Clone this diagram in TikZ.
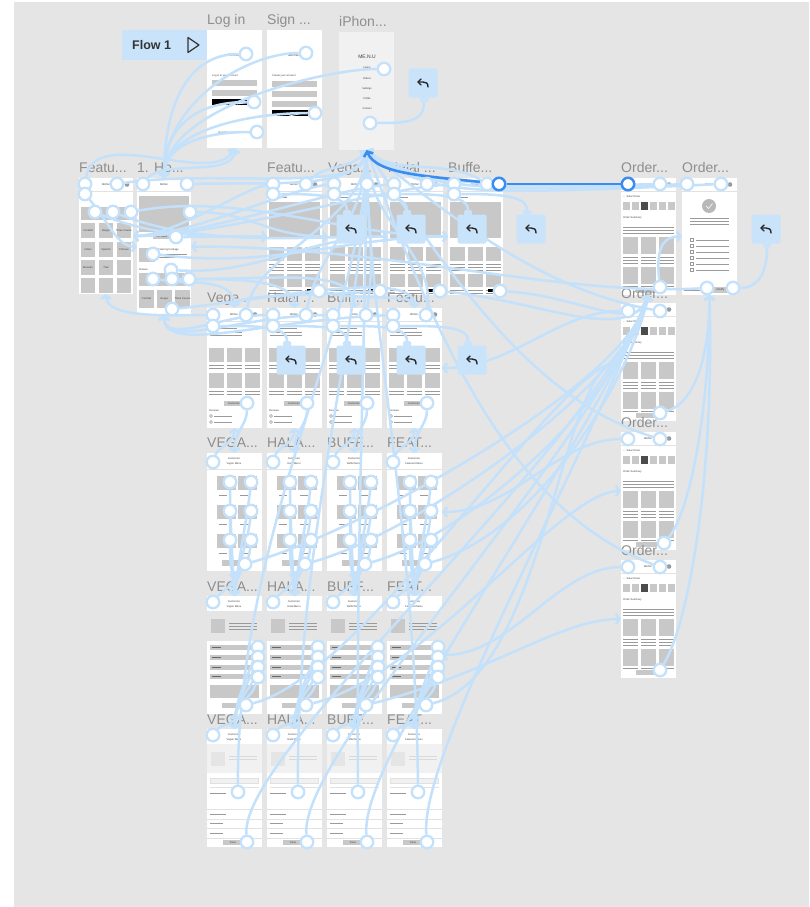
\documentclass[tikz,border=0pt]{standalone}
\usepackage{fontspec}
\setmainfont{Liberation Sans}
\usetikzlibrary{arrows.meta,calc}
\definecolor{bgc}{HTML}{E5E5E5}
\definecolor{wire}{HTML}{C4E1FB}
\definecolor{wired}{HTML}{3A8CEE}
\definecolor{bubc}{HTML}{C9E3FB}
\definecolor{gbox}{HTML}{C8C8C8}
\definecolor{gline}{HTML}{9A9A9A}
\definecolor{ttlc}{HTML}{8E8E8E}
\definecolor{sepc}{HTML}{E2E2E2}
\definecolor{pale}{HTML}{F1F1F1}
\pgfdeclarelayer{back}
\pgfdeclarelayer{wires}
\pgfdeclarelayer{top}
\pgfsetlayers{back,main,wires,top}
\tikzset{
 frm/.style={draw=none, fill=white, minimum width=55pt, minimum height=118pt, anchor=north west, inner sep=0pt, outer sep=0pt},
 ttl/.style={anchor=base west, text=ttlc, font=\fontsize{14}{14}\selectfont, inner sep=0pt},
 tny/.style={font=\fontsize{2.6}{3}\selectfont, text=black!75, inner sep=0pt},
 hdrline/.style={draw=sepc, line width=0.6pt},
 gl/.style={draw=gline, line width=0.6pt},
 hs/.style={circle, draw=wire, line width=2.3pt, fill=white, minimum size=12.5pt, inner sep=0pt},
 hsd/.style={circle, draw=wired, line width=2.5pt, fill=white, minimum size=12.5pt, inner sep=0pt},
 wire/.style={draw=wire, line width=2.5pt},
 warr/.style={draw=wire, line width=2.5pt, -{Straight Barb[length=3.5pt,width=10pt]}},
 wdark/.style={draw=wired, line width=2.6pt},
 bub/.style={fill=bubc, rounded corners=2pt, minimum size=29pt, inner sep=0pt},
 tabn/.style={fill=bubc, rounded corners=1.5pt, minimum width=8pt, minimum height=6pt, inner sep=0pt},
 pics/backicon/.style={code={
   \draw[line width=1.4pt, black!85, line cap=round] (5,4) .. controls (5,0) and (3,-1) .. (0,-1) -- (-5,-1);
   \draw[line width=1.4pt, black!85, line cap=round, line join=round] (-2,-4) -- (-5,-1) -- (-2,2);
 }},
 pics/hdr/.style={code={
   \draw[hdrline] (0,13) -- (55,13);
   \node[tny] at (27,6.5) {MENU};
   \fill[gline] (48,6.5) circle (2.3);
 }},
 pics/loginscr/.style={code={
   \node[tny, font=\fontsize{4}{4}\selectfont] at (27,25) {MENU};
   \node[tny, anchor=west] at (5,46) {Log in to your account};
   \fill[gbox] (5,50) rectangle (50,56);
   \fill[gbox] (5,60) rectangle (50,66);
   \fill[black] (5,69) rectangle (50,75);
   \draw[white, line width=0.7pt] (22,75) -- (48,70) (30,74) -- (48,72);
   \node[tny] at (30,103) {Don't have an account? Sign up};
 }},
 pics/signupscr/.style={code={
   \node[tny, font=\fontsize{4}{4}\selectfont] at (27,25) {MENU};
   \node[tny, anchor=west] at (5,46) {Create your account};
   \fill[gbox] (5,51) rectangle (50,57);
   \fill[gbox] (5,61) rectangle (50,67);
   \fill[gbox] (5,71) rectangle (50,77);
   \fill[black] (5,80) rectangle (50,86);
   \draw[white, line width=0.7pt] (22,86) -- (48,81);
 }},
 pics/iphonescr/.style={code={
   \node[tny, font=\fontsize{5}{5}\selectfont] at (28,25) {ME.N.U};
   \node[tny] at (28,36) {Home};
   \node[tny] at (28,47) {Orders};
   \node[tny] at (28,57) {Settings};
   \node[tny] at (28,67) {Profile};
   \node[tny] at (28,77) {Contact};
 }},
 pics/catscr/.style={code={
   \pic {hdr};
   \fill[gbox] (2,29) rectangle (52,42);
   \foreach \vv in {45,64,82,100} \foreach \uu in {2,20,38} \fill[gbox] (\uu,\vv) rectangle ++(14,15);
   \node[tny] at (9,52.5) {Cocktail};
   \node[tny] at (27,52.5) {Burger};
   \node[tny] at (45,52.5) {Three Course};
   \node[tny] at (9,71.5) {Indian};
   \node[tny] at (27,71.5) {Spanish};
   \node[tny] at (45,71.5) {Chinese};
   \node[tny] at (9,89.5) {Mexican};
   \node[tny] at (27,89.5) {Thai};
 }},
 pics/homescr/.style={code={
   \pic {hdr};
   \fill[gbox] (2,18) rectangle (52,54);
   \fill[gbox] (16,56) rectangle (33,61);
   \node[tny] at (24.5,58.5) {Get starts};
   \fill[gbox] (2,70) rectangle (18,84);
   \node[tny, anchor=west] at (21,72) {Catering Package};
   \draw[gl] (21,76) -- (50,76) (21,79) -- (50,79);
   \node[tny, anchor=west] at (2,92) {Browse};
   \fill[gbox] (2,95) rectangle (52,108);
   \foreach \uu/\lbl in {2/Cocktail,20/Burger,38/Three Course} {
     \fill[gbox] (\uu,112) rectangle ++(15,18);
     \node[tny] at (\uu+7.5,121) {\lbl};
   }
 }},
 pics/menuscr/.style={code={
   \pic {hdr};
   \draw[gl] (3,19) -- (20,19);
   \fill[gbox] (2,24) rectangle (53,60);
   \foreach \uu in {2,20,38} {
     \fill[gbox] (\uu,69) rectangle ++(15,14);
     \draw[gl] (\uu,86) -- ++(15,0) (\uu,89) -- ++(15,0) (\uu,92) -- ++(15,0);
     \fill[gbox] (\uu,96) rectangle ++(15,13);
     \draw[gl] (\uu,112) -- ++(15,0) (\uu,115) -- ++(15,0);
   }
   \fill[black] (40,111) rectangle (50,114);
 }},
 pics/orderscr/.style={code={
   \pic {hdr};
   \node[tny, anchor=west] at (2,19) {← Select Date};
   \foreach \uu/\cc in {2/gbox,11/gbox,20/black!70,29/gbox,38/gbox,47/gbox} \fill[\cc] (\uu,24) rectangle ++(7,8);
   \node[tny, anchor=west] at (2,40) {Order Summary};
   \draw[gl] (2,49) -- (53,49) (2,52) -- (53,52) (2,55) -- (53,55);
   \foreach \uu in {2,20,38} {
     \fill[gbox] (\uu,59) rectangle ++(15,17);
     \draw[gl] (\uu,79) -- ++(15,0) (\uu,82) -- ++(15,0) (\uu,85) -- ++(15,0);
     \fill[gbox] (\uu,89) rectangle ++(15,17);
     \draw[gl] (\uu,108) -- ++(15,0);
   }
   \fill[gbox] (15,110) rectangle (36,115);
 }},
 pics/confscr/.style={code={
   \pic {hdr};
   \fill[gline!70] (27,28) circle (7);
   \draw[white, line width=0.6pt] (24,28) -- (26.5,30.5) -- (30.5,25.5);
   \draw[gl] (8,40) -- (47,40) (8,43) -- (47,43) (8,46) -- (47,46);
   \foreach \vv in {62,68,74,80,86,92} {
     \draw[gline, line width=0.4pt] (8,\vv-1.5) rectangle ++(3,3);
     \draw[gl] (14,\vv) -- (47,\vv);
   }
   \draw[gl] (2,112) -- (28,112);
   \fill[gbox] (31,109) rectangle (46,115);
   \node[tny] at (38.5,112) {Modify};
 }},
 pics/detscr/.style={code={
   \pic {hdr};
   \draw[gl] (3,20) -- (30,20) (3,24) -- (35,24) (3,27) -- (35,27);
   \foreach \uu in {2,20,38} {
     \fill[gbox] (\uu,40) rectangle ++(15,14);
     \draw[gl] (\uu,57) -- ++(15,0) (\uu,60) -- ++(15,0);
     \fill[gbox] (\uu,65) rectangle ++(15,15);
     \draw[gl] (\uu,83) -- ++(15,0) (\uu,86) -- ++(15,0);
   }
   \fill[gbox] (17,93) rectangle (37,98);
   \node[tny] at (27,95.5) {Customize};
   \node[tny, anchor=west] at (2,103) {Reviews};
   \draw[gline, line width=0.4pt] (4,108) circle (1.5) (4,114) circle (1.5);
   \draw[gl] (7,108) -- (25,108) (7,114) -- (25,114);
 }},
 pics/custscr/.style={code={
   \node[tny] at (27,6) {Customize};
   \node[tny] at (27,11) {#1};
   \draw[hdrline] (0,16) -- (55,16);
   \foreach \vv in {23,52,81} {
     \fill[gbox] (10,\vv) rectangle ++(19,14);
     \fill[gbox] (31,\vv) rectangle ++(19,14);
     \draw[gl] (12,\vv+19) -- ++(8,0) (33,\vv+19) -- ++(8,0);
   }
   \fill[gbox] (15,107) rectangle (35,113);
 }},
 pics/optscr/.style={code={
   \fill[white] (0,0) rectangle (55,15);
   \node[tny] at (27,5.5) {Customize};
   \node[tny] at (27,10.5) {#1};
   \fill[gbox] (4,23) rectangle (18,37);
   \draw[gl] (22,27) -- (50,27) (22,30) -- (50,30) (22,33) -- (50,33);
   \fill[white] (0,45) rectangle (55,118);
   \foreach \vv in {49,59,69,78} {
     \fill[gbox] (3,\vv) rectangle (50,\vv+5);
     \draw[draw=black!60, line width=0.6pt] (5,\vv+2.5) -- (14,\vv+2.5);
   }
   \fill[gbox] (3,89) rectangle (52,102);
   \fill[gbox] (15,107) rectangle (35,112);
 }},
 pics/chkscr/.style={code={
   \node[tny] at (27,5.5) {Customize};
   \node[tny] at (27,10.5) {#1};
   \fill[pale] (0,15) rectangle (55,44);
   \fill[black!10] (4,23) rectangle (18,37);
   \draw[draw=black!15, line width=0.6pt] (22,27) -- (50,27) (22,30) -- (50,30);
   \draw[draw=black!12, fill=pale, line width=0.5pt] (3,49) rectangle (51,54);
   \draw[hdrline] (3,58) -- (52,58);
   \draw[gl] (3,64) -- (19,64);
   \draw[hdrline] (0,80) -- (55,80) (0,90) -- (55,90) (0,99) -- (55,99) (0,109) -- (55,109);
   \draw[gl] (3,85) -- (19,85) (3,94) -- (16,94) (3,104) -- (16,104);
   \fill[gbox] (16,111) rectangle (36,116);
   \node[tny] at (26,113.5) {Done};
 }},
}
\begin{document}
\begin{tikzpicture}[x=1pt,y=-1pt]
\useasboundingbox (0,0) rectangle (809,907);
\begin{pgfonlayer}{back}
 \fill[white] (0,0) rectangle (809,907);
 \fill[bgc] (14,2) rectangle (809,907);
\end{pgfonlayer}

% ---------- frames ----------
\node[fill=bubc, minimum width=85pt, minimum height=30pt, anchor=north west, inner sep=0pt] (flow) at (122,30) {};
\node[anchor=west, font=\fontsize{12.5}{13}\selectfont\bfseries, text=black!80, inner sep=0pt] (flowt) at (132,45) {Flow 1};
\draw[line width=1.2pt, black!80, line join=round] (188,37.5) -- (199,45) -- (188,52.5) -- cycle;

\node[frm] (login) at (207,30) {};  \pic at (207,30) {loginscr};
\node[frm] (signup) at (267,30) {}; \pic at (267,30) {signupscr};
\node[frm, fill=pale] (iphone) at (339,32) {}; \pic at (339,32) {iphonescr};
\node[frm, minimum width=54pt, minimum height=116pt] (feat0) at (79,178) {}; \pic at (79,178) {catscr};
\node[frm, minimum width=54pt, minimum height=137pt] (home) at (137,178) {}; \pic at (137,178) {homescr};
\foreach \i/\x in {1/267,2/328,3/388,4/448} {
  \node[frm, minimum height=117pt] (r2f\i) at (\x,178) {}; \pic at (\x,178) {menuscr};
}
\node[frm, minimum height=117pt] (ord1) at (621,178) {}; \pic at (621,178) {orderscr};
\node[frm, minimum height=117pt] (ord2) at (682,178) {}; \pic at (682,178) {confscr};
\node[frm] (ord3) at (621,303) {}; \pic at (621,303) {orderscr};
\node[frm] (ord4) at (621,432) {}; \pic at (621,432) {orderscr};
\node[frm] (ord5) at (621,560) {}; \pic at (621,560) {orderscr};
\foreach \i/\x/\m in {1/207/Vegan Menu,2/267/Halal Menu,3/327/Buffet Menu,4/387/Featured Menu} {
  \node[frm, minimum height=120pt] (r3f\i) at (\x,308) {}; \pic at (\x,308) {detscr};
  \node[frm] (r4f\i) at (\x,453) {}; \pic at (\x,453) {custscr=\m};
  \node[frm, fill=none] (r5f\i) at (\x,596) {}; \pic at (\x,596) {optscr=\m};
  \node[frm] (r6f\i) at (\x,729) {}; \pic at (\x,729) {chkscr=\m};
}

% ---------- titles ----------
\node[ttl] (tlog) at (207,25) {Log in};
\node[ttl] (tsig) at (267,25) {Sign ...};
\node[ttl] (tiph) at (339,27) {iPhon...};
\node[ttl] (tf0) at (79,172) {Featu...};
\node[ttl] (tho) at (137,172) {1. Ho...};
\node[ttl] (t21) at (267,172) {Featu...};
\node[ttl] (t22) at (328,172) {Vega...};
\node[ttl] (t23) at (388,172) {Halal ...};
\node[ttl] (t24) at (448,172) {Buffe...};
\node[ttl] (to1) at (621,172) {Order...};
\node[ttl] (to2) at (682,172) {Order...};
\node[ttl] (to3) at (621,298) {Order...};
\node[ttl] (to4) at (621,427) {Order...};
\node[ttl] (to5) at (621,555) {Order...};
\node[ttl] (t31) at (207,302) {Vege...};
\node[ttl] (t32) at (267,302) {Halal ...};
\node[ttl] (t33) at (327,302) {Buff...};
\node[ttl] (t34) at (387,302) {Featu...};
\foreach \r/\y in {4/447,5/591,6/724} {
  \node[ttl] (t\r a) at (207,\y) {VEGA...};
  \node[ttl] (t\r b) at (267,\y) {HALA...};
  \node[ttl] (t\r c) at (327,\y) {BUFF...};
  \node[ttl] (t\r d) at (387,\y) {FEAT...};
}

% ---------- bubbles and hotspots ----------
\begin{pgfonlayer}{top}
 \node[tabn] (bk0t) at (424,99.5) {};
 \node[bub] (bk0) at (423,83) {}; \pic at (bk0) {backicon};
 \node[tabn] (bk5t) at (767,244.5) {};
 \node[bub] (bk5) at (766,229) {}; \pic at (bk5) {backicon};
 \foreach \i/\x in {1/351,2/411,3/472,4/531} {
   \node[tabn] (bktt\i) at (\x-4,213) {};
   \node[bub] (bkt\i) at (\x,229) {}; \pic at (bkt\i) {backicon};
 }
 \foreach \i/\x in {1/291,2/351,3/411,4/472} {
   \node[tabn] (bkrt\i) at (\x-4,344) {};
   \node[bub] (bkr\i) at (\x,360) {}; \pic at (bkr\i) {backicon};
 }
 \node[hs] (li1) at (246,54) {};
 \node[hs] (li2) at (254,102) {};
 \node[hs] (li3) at (257,132) {};
 \node[hs] (su1) at (306,53) {};
 \node[hs] (su2) at (315,113) {};
 \node[hs] (ip1) at (384,69) {};
 \node[hs] (ip2) at (370,123) {};
 \node[hs] (f0a) at (85,184) {};
 \node[hs] (f0b) at (117,184) {};
 \node[hs] (f0c) at (85,194) {};
 \node[hs] (f0d) at (95,212) {};
 \node[hs] (f0e) at (113,212) {};
 \node[hs] (f0f) at (131,212) {};
 \node[hs] (ha) at (143,184) {};
 \node[hs] (hb) at (187,184) {};
 \node[hs] (hc) at (190,212) {};
 \node[hs] (hd) at (176,237) {};
 \node[hs] (he) at (153,254) {};
 \node[hs] (hf) at (171,270) {};
 \node[hs] (hg) at (153,279) {};
 \node[hs] (hh) at (172,279) {};
 \node[hs] (hi) at (189,279) {};
 \node[hs] (hj) at (172,309) {};
 \foreach \i/\x in {1/267,2/328,3/388,4/448} {
   \node[hs] (r2a\i) at (\x+6,184) {};
   \node[hs] (r2b\i) at (\x+39,184) {};
   \node[hs] (r2c\i) at (\x+6,194) {};
   \node[hs] (r2d\i) at (\x+52,291) {};
 }
 \node[hsd] (bmd) at (499,184) {};
 \node[hsd] (o1a) at (628,184) {};
 \node[hs] (o1b) at (660,184) {};
 \node[hs] (o1c) at (660,287) {};
 \node[hs] (o2a) at (687,184) {};
 \node[hs] (o2b) at (721,184) {};
 \node[hs] (o2c) at (707,288) {};
 \node[hs] (o2d) at (733,288) {};
 \node[hs] (o3a) at (628,311) {};
 \node[hs] (o3b) at (660,311) {};
 \node[hs] (o3c) at (660,413) {};
 \node[hs] (o4a) at (628,439) {};
 \node[hs] (o4b) at (660,439) {};
 \node[hs] (o4c) at (664,543) {};
 \node[hs] (o5a) at (628,567) {};
 \node[hs] (o5b) at (660,567) {};
 \node[hs] (o5c) at (660,670) {};
 \foreach \i/\x in {1/207,2/267,3/327,4/387} {
   \node[hs] (r3a\i) at (\x+6,315) {};
   \node[hs] (r3b\i) at (\x+39,315) {};
   \node[hs] (r3c\i) at (\x+6,326) {};
   \node[hs] (r3d\i) at (\x+40,403) {};
   \node[hs] (r4h\i) at (\x+6,462) {};
   \foreach \k/\y in {1/482,2/511,3/540} {
     \node[hs] (r4i\i\k) at (\x+23,\y) {};
     \node[hs] (r4j\i\k) at (\x+44,\y) {};
   }
   \node[hs] (r4b\i) at (\x+38,564) {};
   \node[hs] (r5h\i) at (\x+6,602) {};
   \foreach \k/\y in {1/647,2/657,3/667,4/677} \node[hs] (r5s\i\k) at (\x+51,\y) {};
   \node[hs] (r5b\i) at (\x+39,705) {};
   \node[hs] (r6h\i) at (\x+6,735) {};
   \node[hs] (r6m\i) at (\x+31,792) {};
   \node[hs] (r6b\i) at (\x+40,842) {};
 }
\end{pgfonlayer}

% ---------- connectors ----------
\begin{pgfonlayer}{wires}
 \foreach \n/\b in {li1/-70,li2/-50,li3/-30,su1/-75,su2/-50,ip1/-70}
   \draw[warr] (\n) .. controls +(-60,0) and +(0,\b) .. (home.north);
 \draw[wire] (ip2) .. controls +(35,0) and +(0,20) .. (bk0t.south);
 % home
 \draw[warr] (ha) .. controls +(20,-25) and +(0,30) .. (login.south);
 \draw[warr] (hb) .. controls +(90,-2) and +(-10,40) .. (iphone.south);
 \draw[warr] (hc) .. controls +(60,0) and +(-60,0) .. (r2f2.west);
 \draw[warr] (hd) .. controls +(40,0) and +(-40,0) .. (r2f1.west);
 \draw[warr] (he) .. controls +(120,15) and +(-100,0) .. (r2f4.west);
 \draw[warr] (hf) .. controls +(90,5) and +(-80,0) .. (r2f3.west);
 \draw[warr] (hg) .. controls +(40,5) and +(0,-30) .. (r3f1.north);
 \draw[warr] (hh) .. controls +(60,0) and +(0,-30) .. (r3f2.north);
 \draw[warr] (hi) .. controls +(90,0) and +(0,-40) .. (r3f3.north);
 \draw[warr] (hj) .. controls +(100,-10) and +(0,-40) .. (r3f4.north);
 % featured categories
 \draw[warr] (f0a) .. controls +(10,-60) and +(-20,40) .. (login.south);
 \draw[warr] (f0b) .. controls +(100,-15) and +(0,45) .. (iphone.south);
 \draw[warr] (f0c) .. controls +(25,30) and +(-20,0) .. (home.west);
 \draw[warr] (f0d) .. controls +(60,25) and +(-60,0) .. (r2f1.west);
 \draw[warr] (f0e) .. controls +(90,35) and +(-90,0) .. (r2f3.west);
 \draw[warr] (f0f) .. controls +(110,-20) and +(-100,0) .. (r2f4.west);
 % row 2
 \foreach \i/\d in {1/30,2/45,3/60,4/75} {
   \draw[warr] (r2a\i) .. controls +(-\d,5) and +(\d+10,0) .. (feat0.east);
   \draw[wire] (r2c\i) .. controls +(40,0) and +(0,-15) .. (bktt\i.north);
 }
 \draw[warr] (r2b1) .. controls +(20,-20) and +(-15,20) .. (iphone.south);
 \draw[warr] (r2b2) .. controls +(0,-15) and +(0,15) .. (iphone.south);
 \draw[warr] (r2b3) .. controls +(-20,-20) and +(15,20) .. (iphone.south);
 \draw[warr] (r2b4) .. controls +(-40,-25) and +(25,25) .. (iphone.south);
 \draw[warr] (r2d1) .. controls +(40,10) and +(0,-15) .. (r3f4.north);
 \draw[warr] (r2d2) .. controls +(-60,5) and +(0,-15) .. (r3f1.north);
 \draw[warr] (r2d3) .. controls +(100,10) and +(-20,50) .. (ord1.south);
 \draw[warr] (r2d4) .. controls +(80,5) and +(-10,40) .. (ord1.south);
 % orders
 \draw[warr] (o1b) .. controls +(-160,4) and +(40,35) .. (iphone.south);
 \draw[warr] (o2a) .. controls +(-200,8) and +(50,40) .. (iphone.south);
 \draw[warr] (o2b) .. controls +(-260,12) and +(60,45) .. (iphone.south);
 \draw[warr] (o1c) .. controls +(-5,-45) and +(-15,0) .. (ord2.west);
 \draw[warr] (o2c) .. controls +(-150,8) and +(200,0) .. (home.east);
 \draw[wire] (o2d) .. controls +(25,0) and +(0,25) .. (bk5t.south);
 \draw[warr] (o3c) .. controls +(35,-10) and +(0,60) .. (ord2.south);
 \draw[warr] (o4c) .. controls +(25,-30) and +(0,120) .. (ord2.south);
 \draw[warr] (o5c) .. controls +(25,-40) and +(5,200) .. (ord2.south);
 \draw[warr] (o3a) .. controls +(-70,0) and +(70,0) .. (r3f4.east);
 \draw[warr] (o4a) .. controls +(-70,0) and +(70,0) .. (r4f4.east);
 \draw[warr] (o5a) .. controls +(-70,0) and +(70,0) .. (r5f4.east);
 \draw[warr] (o3b) .. controls +(-110,-20) and +(100,80) .. (iphone.south);
 \draw[warr] (o4b) .. controls +(-130,-40) and +(80,120) .. (iphone.south);
 \draw[warr] (o5b) .. controls +(-160,-60) and +(60,160) .. (iphone.south);
 % rows 3-6
 \draw[warr] (r3a1) .. controls +(-40,0) and +(0,25) .. (feat0.south);
 \draw[warr] (r3a2) .. controls +(-50,0) and +(0,30) .. (home.south);
 \draw[warr] (r3a3) .. controls +(-90,0) and +(0,35) .. (home.south);
 \draw[warr] (r3a4) .. controls +(-130,5) and +(0,40) .. (home.south);
 \foreach \i in {1,2,3,4} {
   \draw[warr] (r3b\i) .. controls +(10,-60) and +(0,70) .. (iphone.south);
   \draw[wire] (r3c\i) .. controls +(45,0) and +(0,-15) .. (bkrt\i.north);
   \draw[warr] (r3d\i) .. controls +(0,22) and +(0,-22) .. (r4f\i.north);
   \draw[warr] (r4h\i) .. controls +(5,-15) and +(0,15) .. (r3f\i.south);
   \foreach \k in {1,2,3} {
     \draw[warr] (r4i\i\k) .. controls +(0,30) and +(-2,-30) .. (r5f\i.north);
     \draw[warr] (r4j\i\k) .. controls +(-3,30) and +(3,-30) .. (r5f\i.north);
   }
   \draw[warr] (r4b\i) .. controls +(110,-30) and +(-20,90) .. (ord1.south);
   \draw[warr] (r5h\i) .. controls +(10,-12) and +(0,15) .. (r4f\i.south);
   \foreach \k in {1,2,3,4} \draw[warr] (r5s\i\k) .. controls +(-8,25) and +(0,-30) .. (r6f\i.north);
   \draw[warr] (r6h\i) .. controls +(10,-12) and +(0,12) .. (r5f\i.south);
   \draw[warr] (r6m\i) .. controls +(-2,-260) and +(0,160) .. (iphone.south);
   \draw[warr] (r6b\i) .. controls +(-8,-90) and +(-60,160) .. (ord1.south);
 }
 \foreach \i/\o in {1/ord3,2/ord4,3/ord5,4/ord3}
   \draw[warr] (r5b\i) .. controls +(120,-30) and +(-60,0) .. (\o.west);
 % highlighted connection
 \draw[wdark] (o1a) -- (bmd);
 \draw[wdark, -{Straight Barb[length=4pt,width=10pt]}] (bmd) .. controls +(-70,-8) and +(10,25) .. (iphone.south);
\end{pgfonlayer}
\end{tikzpicture}
\end{document}
